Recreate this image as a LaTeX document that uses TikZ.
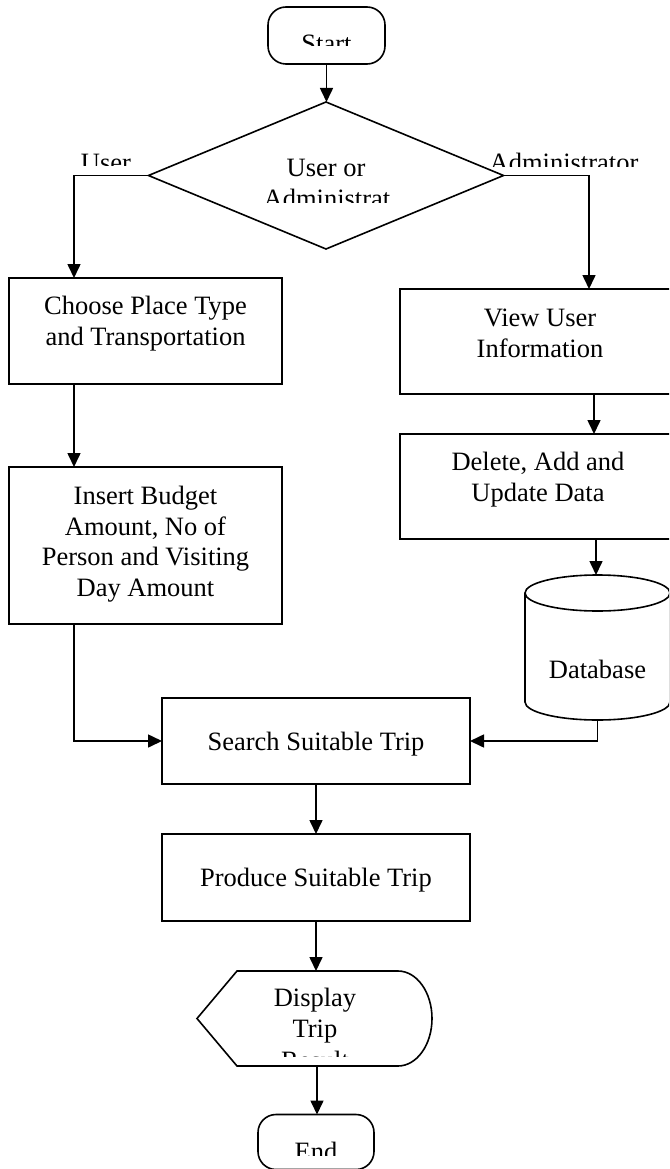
\documentclass[tikz,border=0pt]{standalone}
\usepackage{fontspec}
\setmainfont{Liberation Serif}
\usetikzlibrary{arrows.meta,shapes.geometric,calc}
\begin{document}
\begin{tikzpicture}[x=1pt,y=-1pt,
  every node/.style={inner sep=0pt, outer sep=0pt},
  lw/.style={line width=1.6pt},
  box/.style={draw, lw, rectangle},
  term/.style={draw, lw, rectangle, rounded corners=18pt},
  txt/.style={font=\fontsize{26.5}{30.5}\selectfont, align=center, anchor=base},
  arr/.style={lw, -{Triangle[length=14pt,width=13pt]}}]
\useasboundingbox (0,0) rectangle (669,1169);
\clip (0,0) rectangle (669,1169);

% shapes
\node[term, minimum width=117pt, minimum height=57pt] (start) at (326.5,35.5) {};
\node[draw, lw, diamond, minimum width=355pt, minimum height=147pt] (dec) at (326,175.5) {};
\node[box, minimum width=273pt, minimum height=106pt] (choose) at (145.5,331) {};
\node[box, minimum width=273pt, minimum height=157pt] (insert) at (145.5,545.5) {};
\node[box, minimum width=280pt, minimum height=105pt] (view) at (540,341.5) {};
\node[box, minimum width=280pt, minimum height=105pt] (delete) at (540,486.5) {};
\node[minimum width=145pt, minimum height=145pt] (db) at (597.5,647.5) {};
\draw[lw] ($(db.north west)+(0,18)$) -- ($(db.south west)+(0,-18)$)
  arc(180:360:72.5pt and 18pt) -- ($(db.north east)+(0,18)$);
\draw[lw] ($(db.north)+(0,18)$) ellipse (72.5pt and 18pt);
\node[box, minimum width=308pt, minimum height=86pt] (search) at (316,741) {};
\node[box, minimum width=308pt, minimum height=87pt] (produce) at (316,877.5) {};
\node[minimum width=235pt, minimum height=95pt] (disp) at (314.5,1018.5) {};
\draw[lw] (disp.west) -- ($(disp.north west)+(40,0)$) -- ($(disp.north east)+(-34,0)$)
  arc(90:-90:34pt and 47.5pt) -- ($(disp.south west)+(40,0)$) -- cycle;
\node[term, minimum width=116pt, minimum height=55pt] (end) at (316,1142) {};

% texts (base anchor = baseline of the last line)
\begin{scope}
  \clip (250,0) rectangle (400,46);
  \node[txt] (tstart) at (326.5,52.5) {Start};
\end{scope}
\node[txt] (tdec1) at (326,177) {User or};
\begin{scope}
  \clip (200,180) rectangle (450,202);
  \node[txt] (tdec2) at (327,207.5) {Administrat};
\end{scope}
\begin{scope}
  \clip (60,140) rectangle (160,166);
  \node[txt] (tuser) at (106,172) {User};
\end{scope}
\begin{scope}
  \clip (470,140) rectangle (669,167);
  \node[txt] (tadmin) at (564,172) {Administrator};
\end{scope}
\node[txt] (tchoose) at (145.5,345) {Choose Place Type\\and Transportation};
\node[txt] (tinsert) at (145.5,596) {Insert Budget\\Amount, No of\\Person and Visiting\\Day Amount};
\node[txt] (tview) at (540,357) {View User\\Information};
\node[txt] (tdelete) at (538,501) {Delete, Add and\\Update Data};
\node[txt] (tdb) at (597.5,678) {Database};
\node[txt] (tsearch) at (316,750) {Search Suitable Trip};
\node[txt] (tproduce) at (316,886) {Produce Suitable Trip};
\node[txt] (tdisp) at (315,1037) {Display\\Trip};
\begin{scope}
  \clip (250,1040) rectangle (400,1056);
  \node[txt] (tresult) at (315,1069) {Result};
\end{scope}
\begin{scope}
  \clip (270,1120) rectangle (360,1155);
  \node[txt] (tend) at (316,1160.5) {End};
\end{scope}

% connectors
\draw[arr] (start.south) -- (start.south |- dec.north);
\draw[arr] (dec.west) -| ([xshift=-71.5pt]choose.north);
\draw[arr] (dec.east) -| ([xshift=49pt]view.north);
\draw[arr] ([xshift=-71.5pt]choose.south) -- ([xshift=-71.5pt]insert.north);
\draw[arr] ([xshift=54pt]view.south) -- ([xshift=54pt]delete.north);
\draw[arr] ([xshift=56pt]delete.south) -- ([xshift=56pt]delete.south |- db.north);
\draw[arr] (db.south) |- (search.east);
\draw[arr] ([xshift=-71.5pt]insert.south) |- (search.west);
\draw[arr] (search.south) -- (search.south |- produce.north);
\draw[arr] (produce.south) -- (produce.south |- disp.north);
\draw[arr] ([xshift=2.5pt]disp.south) -- ([xshift=2.5pt]disp.south |- end.north);
\end{tikzpicture}
\end{document}
